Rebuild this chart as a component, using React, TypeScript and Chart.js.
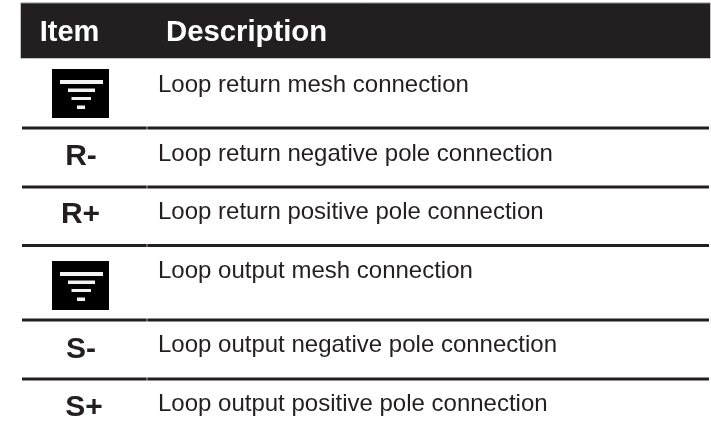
import React, { useEffect, useRef } from "react";
import { Chart, registerables } from "chart.js";

Chart.register(...registerables);

const headers = ["Item", "Description"];
const items = ["", "R-", "R+", "", "S-", "S+"];
const descriptions = [
  "Loop return mesh connection",
  "Loop return negative pole connection",
  "Loop return positive pole connection",
  "Loop output mesh connection",
  "Loop output negative pole connection",
  "Loop output positive pole connection",
];
// Row boundaries and text anchors on the table's axes
const rowEdges = [58, 128, 187, 245.5, 320, 379];
const descBaselines = [91.7, 160.7, 219.3, 278.3, 351.7, 411];
const itemBaselines = [0, 165, 223.3, 0, 358.3, 415.7];
const itemCenters = [0, 81, 80.5, 0, 81, 84];
const iconTops = [69, 0, 0, 261, 0, 0];
const headerTop = 3;
const tableLeft = 21;
const tableRight = 710;
const columnSplit = 147;
const descLeft = 158;
const headerDescLeft = 166;

const INK = "#231f20";
const FONT = "'Liberation Sans', Arial, sans-serif";

const tablePlugin = {
  id: "tableText",
  afterDatasetsDraw(chart: any) {
    const { ctx, scales } = chart;
    const X = (v: number) => scales.x.getPixelForValue(v);
    const Y = (v: number) => scales.y.getPixelForValue(v);
    ctx.save();
    ctx.textBaseline = "alphabetic";
    ctx.fillStyle = "#ffffff";
    ctx.font = `bold 29px ${FONT}`;
    ctx.textAlign = "center";
    ctx.fillText(headers[0], X(69.5), Y(41));
    ctx.font = `bold 29.3px ${FONT}`;
    ctx.textAlign = "left";
    ctx.fillText(headers[1], X(headerDescLeft), Y(41));

    descriptions.forEach((d, i) => {
      ctx.fillStyle = INK;
      ctx.textAlign = "left";
      ctx.font = `24px ${FONT}`;
      ctx.fillText(d, X(descLeft), Y(descBaselines[i]));
      if (items[i]) {
        ctx.font = `bold 30px ${FONT}`;
        ctx.textAlign = "center";
        ctx.fillText(items[i], X(itemCenters[i]), Y(itemBaselines[i]));
      } else {
        const t = iconTops[i];
        ctx.fillStyle = "#000000";
        ctx.fillRect(X(52), Y(t), X(109) - X(52), Y(t + 49) - Y(t));
        ctx.fillStyle = "#f2f2f2";
        const bars = [
          [60, 103, 11, 15],
          [68, 95, 19.5, 23],
          [71.5, 91, 28, 31],
          [77, 85, 36.5, 40],
        ];
        bars.forEach(([a, b, c, e]) => {
          ctx.fillRect(X(a), Y(t + c), X(b) - X(a), Y(t + e) - Y(t + c));
        });
      }
    });
    ctx.restore();
  },
};

export default function App() {
  const ref = useRef<HTMLCanvasElement>(null);
  useEffect(() => {
    document.body.style.margin = "0";
    document.body.style.background = "#ffffff";
    const rule = (y: number, a: number, b: number) => ({
      data: [
        { x: a, y },
        { x: b, y },
      ],
      borderColor: INK,
      borderWidth: 3,
      pointRadius: 0,
      showLine: true,
    });
    const rules = rowEdges
      .slice(1)
      .flatMap((y) => [
        rule(y, tableLeft + 1, columnSplit - 0.3),
        rule(y, columnSplit + 0.3, tableRight - 1),
      ]);
    const header = {
      data: [
        { x: tableLeft - 0.5, y: headerTop },
        { x: tableRight + 0.5, y: headerTop },
      ],
      fill: { value: rowEdges[0] },
      backgroundColor: INK,
      borderColor: "#8a8a8a",
      borderWidth: 1,
      pointRadius: 0,
      showLine: true,
    };
    const headerBottom = {
      data: [
        { x: tableLeft - 0.5, y: rowEdges[0] },
        { x: tableRight + 0.5, y: rowEdges[0] },
      ],
      borderColor: "#8a8a8a",
      borderWidth: 1,
      pointRadius: 0,
      showLine: true,
    };
    const chart = new Chart(ref.current!, {
      type: "scatter",
      data: { datasets: [header, headerBottom, ...rules] as any },
      options: {
        animation: false,
        responsive: false,
        layout: { padding: 0 },
        plugins: { legend: { display: false }, tooltip: { enabled: false } },
        scales: {
          x: { type: "linear", min: 0, max: 711, display: false },
          y: { type: "linear", min: 0, max: 428, reverse: true, display: false },
        },
      },
      plugins: [tablePlugin],
    });
    return () => chart.destroy();
  }, []);
  return <canvas ref={ref} width={711} height={428} style={{ display: "block" }} />;
}
